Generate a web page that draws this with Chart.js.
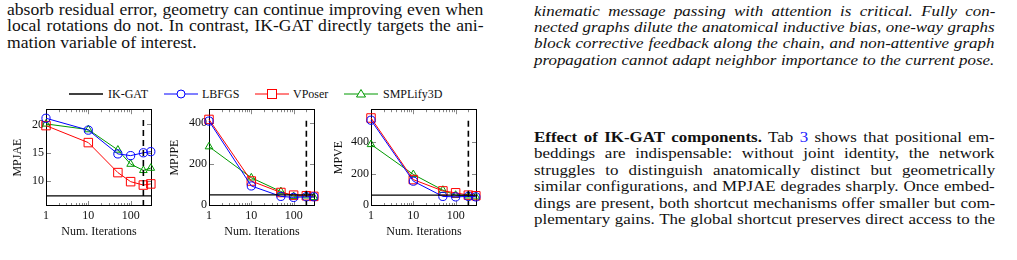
<!DOCTYPE html>
<html>
<head>
<meta charset="utf-8">
<script src="https://cdn.jsdelivr.net/npm/chart.js@4.4.1/dist/chart.umd.min.js"></script>
<style>
  body { margin: 0; width: 1017px; height: 260px; background: #fff; position: relative; overflow: hidden; color: #111;
         font-family: 'Liberation Serif', 'Times New Roman', serif; }
  .col { position: absolute; transform: scaleX(1.1); transform-origin: 0 0; font-size: 16px;
         font-family: 'Liberation Serif', 'Times New Roman', serif; }
  .col.r { font-size: 15.4px; }
  .col div { white-space: nowrap; }
  .it { font-style: italic; }
  .lnk { color: #1a1aff; }
  canvas { position: absolute; top: 100px; }
  .lg { position: absolute; top: 86px; font-size: 12px; line-height: 16px;
        font-family: 'Liberation Serif', 'Times New Roman', serif; }
  .lg svg { position: absolute; top: 0; }
</style>
</head>
<body>

<div class="col" data-w="433" style="left:7px; top:2px; line-height:16.4px;">
  <div>absorb residual error, geometry can continue improving even when</div>
  <div>local rotations do not. In contrast, IK-GAT directly targets the ani-</div>
  <div class="last">mation variable of interest.</div>
</div>

<div class="col r it" data-w="419" style="left:534px; top:2.5px; line-height:16.4px;">
  <div>kinematic message passing with attention is critical. Fully con-</div>
  <div>nected graphs dilute the anatomical inductive bias, one-way graphs</div>
  <div>block corrective feedback along the chain, and non-attentive graph</div>
  <div>propagation cannot adapt neighbor importance to the current pose.</div>
</div>

<div class="col r" data-w="419" style="left:534px; top:128.5px; line-height:16.5px;">
  <div><b>Effect of IK-GAT components.</b> Tab <span class="lnk">3</span> shows that positional em-</div>
  <div>beddings are indispensable: without joint identity, the network</div>
  <div>struggles to distinguish anatomically distinct but geometrically</div>
  <div>similar configurations, and MPJAE degrades sharply. Once embed-</div>
  <div>dings are present, both shortcut mechanisms offer smaller but com-</div>
  <div>plementary gains. The global shortcut preserves direct access to the</div>
</div>

<!-- shared legend -->
<div class="lg" style="left:69px;"><svg width="34" height="16"><line x1="0" y1="8" x2="34" y2="8" stroke="#000" stroke-width="1.3"/></svg></div>
<div class="lg" style="left:108px;">IK-GAT</div>
<div class="lg" style="left:164px;"><svg width="34" height="16"><line x1="0" y1="8" x2="34" y2="8" stroke="#0000ff"/><circle cx="17" cy="8" r="4" fill="#fff" stroke="#0000ff"/></svg></div>
<div class="lg" style="left:202px;">LBFGS</div>
<div class="lg" style="left:255px;"><svg width="34" height="16"><line x1="0" y1="8" x2="34" y2="8" stroke="#ff0000"/><rect x="12.5" y="3.5" width="9" height="9" fill="#fff" stroke="#ff0000"/></svg></div>
<div class="lg" style="left:293px;">VPoser</div>
<div class="lg" style="left:344px;"><svg width="34" height="16"><line x1="0" y1="8" x2="34" y2="8" stroke="#009900"/><polygon points="17,3.5 21.5,11 12.5,11" fill="#fff" stroke="#009900"/></svg></div>
<div class="lg" style="left:383px;">SMPLify3D</div>

<canvas id="mpjae" width="165" height="145" style="left:0px;"></canvas>
<canvas id="mpjpe" width="165" height="145" style="left:163px;"></canvas>
<canvas id="mpve" width="165" height="145" style="left:325px;"></canvas>

<script>
// data
const iterations = [1, 10, 50, 100, 200, 300];

const mpjaeLBFGS   = [21.1, 19.0, 14.8, 14.5, 15.0, 15.2];
const mpjaeVPoser  = [19.8, 16.8, 11.5, 9.9, 9.3, 9.5];
const mpjaeSMPLify = [20.1, 19.1, 15.5, 13.0, 11.9, 12.3];
const mpjaeIKGAT = 7.4;

const mpjpeLBFGS   = [408, 91, 40, 35, 38, 38];
const mpjpeVPoser  = [416, 115, 59, 46, 43, 40];
const mpjpeSMPLify = [283, 131, 64, 40, 43, 35];
const mpjpeIKGAT = 47;

const mpveLBFGS   = [540, 152, 55, 52, 55, 52];
const mpveVPoser  = [554, 162, 90, 78, 63, 59];
const mpveSMPLify = [386, 195, 95, 63, 59, 53];
const mpveIKGAT = 63;

const chosenIter = 200;   // dashed marker

const xTicks = [1, 10, 100];
const xMinorTicks = [2, 3, 4, 5, 6, 7, 8, 9, 20, 30, 40, 50, 60, 70, 80, 90, 200, 300];
const mpjaeTicks = [10, 15, 20];
const mpjpeTicks = [0, 200, 400];
const mpveTicks = [0, 200, 400];

const FONT = '"Liberation Serif", "Times New Roman", serif';

// justify each text line to its column width with word spacing
document.querySelectorAll('.col').forEach(col => {
  const target = parseFloat(col.dataset.w);
  col.querySelectorAll('div').forEach(line => {
    if (line.classList.contains('last')) return;
    const span = document.createElement('span');
    while (line.firstChild) span.appendChild(line.firstChild);
    line.appendChild(span);
    const w = span.offsetWidth;
    const gaps = (span.textContent.match(/ /g) || []).length;
    if (gaps) line.style.wordSpacing = ((target - w) / gaps) + 'px';
  });
});

function pts(vals){
  return vals.map((v, i) => ({x: iterations[i], y: v}));
}

// frame + inward ticks like pgfplots
const frameTicks = {
  id: 'frameTicks',
  beforeDatasetsDraw(chart) {
    const {ctx, chartArea: a, scales: {x, y}} = chart;
    const yt = chart.options.plugins.frameTicks.yTicks;
    ctx.save();
    ctx.strokeStyle = '#888';
    ctx.lineWidth = 1;
    ctx.beginPath();
    xMinorTicks.forEach(v => {
      const px = Math.round(x.getPixelForValue(v)) + 0.5;
      ctx.moveTo(px, a.bottom); ctx.lineTo(px, a.bottom - 3);
      ctx.moveTo(px, a.top); ctx.lineTo(px, a.top + 3);
    });
    xTicks.forEach(v => {
      const px = Math.round(x.getPixelForValue(v)) + 0.5;
      ctx.moveTo(px, a.bottom); ctx.lineTo(px, a.bottom - 5);
      ctx.moveTo(px, a.top); ctx.lineTo(px, a.top + 5);
    });
    yt.forEach(v => {
      const py = Math.round(y.getPixelForValue(v)) + 0.5;
      ctx.moveTo(a.left, py); ctx.lineTo(a.left + 5, py);
      ctx.moveTo(a.right, py); ctx.lineTo(a.right - 5, py);
    });
    ctx.stroke();
    ctx.strokeStyle = '#000';
    ctx.strokeRect(Math.round(a.left) + 0.5, Math.round(a.top) + 0.5,
                   Math.round(a.width) - 1, Math.round(a.height) - 1);
    ctx.restore();
  }
};

function makeChart(id, yLabel, lbfgs, vposer, smplify, ikgat, yMin, yMax, yTicks, dashTop, titlePad){
  const ctx = document.getElementById(id).getContext('2d');
  return new Chart(ctx, {
    type: 'line',
    data: {
      datasets: [
        { label: 'IK-GAT', data: [{x: 1, y: ikgat}, {x: 320, y: ikgat}],
          borderColor: '#000', borderWidth: 1.3, pointRadius: 0 },
        { label: 'dash', data: [{x: chosenIter, y: dashTop}, {x: chosenIter, y: yMin}],
          borderColor: '#000', borderWidth: 1.6, borderDash: [6, 4], pointRadius: 0 },
        { label: 'LBFGS', data: pts(lbfgs), borderColor: '#0000ff', borderWidth: 1,
          pointStyle: 'circle', pointRadius: 4.1, pointBorderColor: '#0000ff',
          pointBackgroundColor: 'rgba(0,0,0,0)', pointBorderWidth: 1 },
        { label: 'VPoser', data: pts(vposer), borderColor: '#ff0000', borderWidth: 1,
          pointStyle: 'rect', pointRadius: 6, pointBorderColor: '#ff0000',
          pointBackgroundColor: 'rgba(0,0,0,0)', pointBorderWidth: 1 },
        { label: 'SMPLify3D', data: pts(smplify), borderColor: '#009900', borderWidth: 1,
          pointStyle: 'triangle', pointRadius: 4.4, pointBorderColor: '#009900',
          pointBackgroundColor: 'rgba(0,0,0,0)', pointBorderWidth: 1 }
      ]
    },
    options: {
      responsive: false,
      animation: false,
      clip: false,
      layout: { padding: { top: 8.5, right: 13, bottom: 0, left: 0 } },
      plugins: {
        legend: { display: false },
        tooltip: { enabled: false },
        frameTicks: { yTicks: yTicks }
      },
      scales: {
        x: {
          type: 'logarithmic', min: 1, max: 320,
          grid: { display: false, drawTicks: false },
          border: { display: false },
          afterBuildTicks: s => { s.ticks = xTicks.map(v => ({value: v})); },
          afterFit: s => { s.height = 39; },
          ticks: { padding: 3, color: '#111', font: { family: FONT, size: 12 },
                   maxRotation: 0, callback: v => String(v) },
          title: { display: true, text: 'Num. Iterations', color: '#111',
                   font: { family: FONT, size: 12 }, padding: { top: 0, bottom: 6 } }
        },
        y: {
          min: yMin, max: yMax,
          grid: { display: false, drawTicks: false },
          border: { display: false },
          afterBuildTicks: s => { s.ticks = yTicks.map(v => ({value: v})); },
          afterFit: s => { s.width = 46; },
          ticks: { padding: 2, color: '#111', font: { family: FONT, size: 12 } },
          title: { display: true, text: yLabel, color: '#111',
                   font: { family: FONT, size: 12 }, padding: { top: titlePad, bottom: 0 } }
        }
      }
    },
    plugins: [frameTicks]
  });
}

makeChart('mpjae', 'MPJAE', mpjaeLBFGS, mpjaeVPoser, mpjaeSMPLify, mpjaeIKGAT, 5.6, 22.7, mpjaeTicks, 20.8, 10.8);
makeChart('mpjpe', 'MPJPE', mpjpeLBFGS, mpjpeVPoser, mpjpeSMPLify, mpjpeIKGAT, -7, 466, mpjpeTicks, 410, 4.8);
makeChart('mpve', 'MPVE', mpveLBFGS, mpveVPoser, mpveSMPLify, mpveIKGAT, -6, 610, mpveTicks, 537, 6.8);
</script>
</body>
</html>
